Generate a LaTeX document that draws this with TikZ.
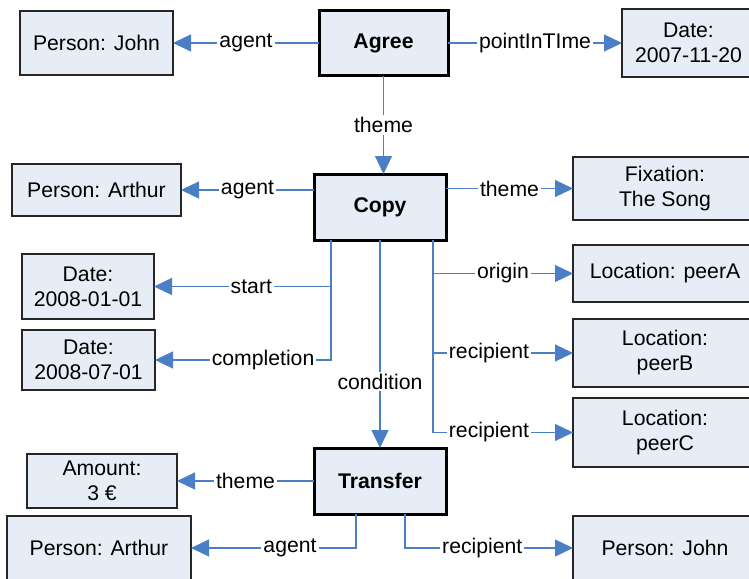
\documentclass[tikz,border=0pt]{standalone}
\usepackage{fontspec}
\setmainfont{Liberation Sans}
\usetikzlibrary{arrows.meta}
\definecolor{boxfill}{RGB}{231,237,247}
\definecolor{linkblue}{RGB}{74,126,197}

\begin{document}
\begin{tikzpicture}[x=0.5pt, y=-0.5pt, >={Triangle[length=9pt,width=8.5pt]}]
    \tikzstyle{entity}=[rectangle,draw=black!85,line width=0.6pt,fill=boxfill,inner sep=0pt,outer sep=0pt,align=center,font=\fontsize{10.6}{12.5}\selectfont]
    \tikzstyle{event}=[entity,draw=black,line width=1.5pt,font=\fontsize{10.6}{12.5}\selectfont\bfseries]
    \tikzstyle{rel}=[->,color=linkblue,line width=0.6pt]
    \tikzstyle{lbl}=[fill=white,text=black,inner sep=1pt,font=\fontsize{10.6}{12.5}\selectfont]
    \useasboundingbox (0,0) rectangle (749,578);
    \clip (0,0) rectangle (749,578);
    % events
    \node[event,minimum width=64.5pt,minimum height=32.5pt] (agree) at (383.5,43) {Agree};
    \node[event,minimum width=66pt,minimum height=33pt] (copy) at (380,207) {Copy};
    \node[event,minimum width=66pt,minimum height=33pt] (transfer) at (380,481) {Transfer};
    % left column
    \node[entity,minimum width=76.5pt,minimum height=32pt] (johnA) at (96.5,43) {Person: John};
    \node[entity,minimum width=84.5pt,minimum height=26pt] (arthurA) at (96.5,190) {Person: Arthur};
    \node[entity,minimum width=66pt,minimum height=32.5pt] (startdate) at (88,286.5) {Date:\\2008-01-01};
    \node[entity,minimum width=66.5pt,minimum height=30pt] (enddate) at (88.5,360) {Date:\\2008-07-01};
    \node[entity,minimum width=75pt,minimum height=27pt] (amount) at (102,481) {Amount:\\3 €};
    \node[entity,minimum width=92pt,minimum height=32pt] (arthurB) at (99,548) {Person: Arthur};
    % right column
    \node[entity,minimum width=66.5pt,minimum height=34pt] (agreedate) at (688.5,43) {Date:\\2007-11-20};
    \node[entity,minimum width=92pt,minimum height=31.5pt] (song) at (665,188.5) {Fixation:\\The Song};
    \node[entity,minimum width=92pt,minimum height=28.5pt] (peerA) at (665,273.5) {Location: peerA};
    \node[entity,minimum width=92pt,minimum height=34pt] (peerB) at (665,353) {Location:\\peerB};
    \node[entity,minimum width=92pt,minimum height=34.5pt] (peerC) at (665,432.5) {Location:\\peerC};
    \node[entity,minimum width=92pt,minimum height=32pt] (johnB) at (665,548) {Person: John};
    % branch points
    \coordinate (copyL) at (331,240);
    \coordinate (copyR) at (433,240);
    \coordinate (transferL) at (356,514);
    \coordinate (transferR) at (405,514);
    % relations
    \draw[rel] (agree.west) -- node[lbl]{agent} (johnA.east);
    \draw[rel] (agree.east) -- node[lbl]{pointInTIme} (agreedate.west);
    \draw[rel] (agree.south) -- node[lbl]{theme} (agree.south |- copy.north);
    \draw[rel] (copy.west |- arthurA.east) -- node[lbl]{agent} (arthurA.east);
    \draw[rel] (copy.east |- song.west) -- node[lbl]{theme} (song.west);
    \draw[rel] (copyL) |- node[lbl,pos=0.725]{start} (startdate.east);
    \draw[rel] (copyL) |- node[lbl,pos=0.693]{completion} (enddate.east);
    \draw[rel] (copyR) |- node[lbl,pos=0.75]{origin} (peerA.west);
    \draw[rel] (copyR) |- node[lbl,pos=0.70]{recipient} (peerB.west);
    \draw[rel] (copyR) |- node[lbl,pos=0.70]{recipient} (peerC.west);
    \draw[rel] (copy.south) -- node[lbl,pos=0.68]{condition} (transfer.north);
    \draw[rel] (transfer.west) -- node[lbl]{theme} (amount.east);
    \draw[rel] (transferL) |- node[lbl,pos=0.7]{agent} (arthurB.east);
    \draw[rel] (transferR) |- node[lbl,pos=0.73]{recipient} (johnB.west);
\end{tikzpicture}
\end{document}
